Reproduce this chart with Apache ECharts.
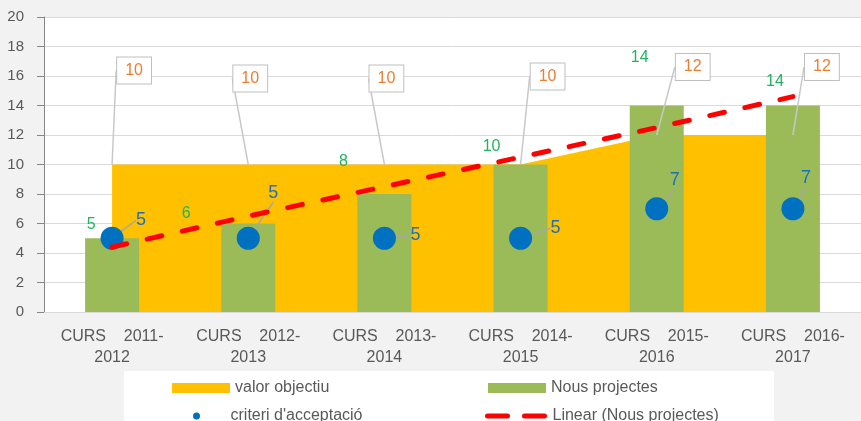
<!DOCTYPE html>
<html>
<head>
<meta charset="utf-8">
<script src="https://cdn.jsdelivr.net/npm/echarts@6/dist/echarts.min.js"></script>
<style>
  html, body { margin: 0; padding: 0; background: #f2f2f2; }
  #main { width: 861px; height: 421px; }
</style>
</head>
<body>
<div id="main"></div>
<script>
// dades del gràfic
var categories = ['CURS    2011-\n2012', 'CURS    2012-\n2013', 'CURS    2013-\n2014',
                  'CURS    2014-\n2015', 'CURS    2015-\n2016', 'CURS    2016-\n2017'];
var valorObjectiu = [10, 10, 10, 10, 12, 12];
var nousProjectes = [5, 6, 8, 10, 14, 14];
var criteriAcceptacio = [5, 5, 5, 5, 7, 7];
var linearNous = [4.4, 6.5, 8.5, 10.5, 12.5, 14.6];
var yTicks = [0, 20, 2]; // min, max, interval

// desplaçament de les etiquetes (px) respecte del punt
var areaLabelShift = [[22, -94], [2, -86], [2, -86], [27, -88], [36, -68], [29, -68]];
var barLabelShift = [[-21, -14], [-62, -10], [-41, -32], [-29, -18], [-17, -48], [-18, -24]];
var dotLabelShift = [[29, -18], [25, -45], [31, -3], [35, -10], [18, -29], [13, -31]];

var font = 'Liberation Sans';
var gris = '#595959';
var myChart = echarts.init(document.getElementById('main'));

function moveLabel(shift, fromTop) {
    return function (p) {
        var r = p.rect;
        var s = shift[p.dataIndex];
        var y = fromTop ? r.y : r.y + r.height / 2;
        return {
            x: r.x + r.width / 2 + s[0],
            y: y + s[1],
            align: 'center',
            verticalAlign: 'middle'
        };
    };
}

var legendText = { color: gris, fontSize: 16, fontFamily: font };

var option = {
    backgroundColor: '#f2f2f2',
    animation: false,
    textStyle: { fontFamily: font },
    grid: {
        left: 44, top: 17, width: 820, height: 295,
        show: true, backgroundColor: '#ffffff', borderWidth: 0
    },
    graphic: [{
        type: 'rect', left: 124, top: 371, z: -1,
        shape: { width: 650, height: 50 },
        style: { fill: '#ffffff' }
    }],
    legend: [
        { data: [{ name: 'valor objectiu', icon: 'rect' }], left: 167, top: 375,
          itemWidth: 58, itemHeight: 10, textStyle: legendText },
        { data: [{ name: 'Nous projectes', icon: 'rect' }], left: 483, top: 375,
          itemWidth: 58, itemHeight: 10, textStyle: legendText },
        { data: [{ name: "criteri d'acceptació", icon: 'circle' }], left: 188, top: 403,
          itemWidth: 58, itemHeight: 7, textStyle: legendText },
        { data: ['Linear (Nous projectes)'], left: 480, top: 403,
          itemWidth: 60, itemHeight: 10,
          lineStyle: { type: [20, 17], width: 5 },
          itemStyle: { opacity: 0 },
          textStyle: legendText }
    ],
    xAxis: {
        type: 'category',
        data: categories,
        axisLine: { lineStyle: { color: '#d9d9d9' } },
        axisTick: { show: false },
        axisLabel: { color: gris, fontSize: 16, lineHeight: 21, margin: 14, interval: 0 }
    },
    yAxis: {
        type: 'value',
        min: yTicks[0], max: yTicks[1], interval: yTicks[2],
        axisLine: { show: true, lineStyle: { color: '#868686' } },
        axisTick: { show: true, length: 7, lineStyle: { color: '#868686' } },
        splitLine: { lineStyle: { color: '#d9d9d9' } },
        axisLabel: { color: gris, fontSize: 15, margin: 20 }
    },
    series: [
        {
            // àrea groga (darrere de tot)
            name: 'valor objectiu',
            type: 'line',
            z: 1,
            data: valorObjectiu,
            color: '#FFC000',
            symbol: 'none',
            lineStyle: { width: 0 },
            areaStyle: { color: '#FFC000', opacity: 1 }
        },
        {
            name: 'Nous projectes',
            type: 'bar',
            z: 2,
            data: nousProjectes,
            color: '#9BBB59',
            barWidth: 54,
            label: { show: true, position: 'top', color: '#22B35E', fontSize: 16, textBorderWidth: 0 },
            labelLayout: moveLabel(barLabelShift, true)
        },
        {
            name: "criteri d'acceptació",
            type: 'scatter',
            z: 3,
            data: criteriAcceptacio,
            color: '#0070C0',
            symbolSize: 23,
            itemStyle: { opacity: 1 },
            label: { show: true, position: 'right', color: '#1F6FB8', fontSize: 18, textBorderWidth: 0 },
            labelLine: { show: true, lineStyle: { color: '#a6a6a6', width: 1.5 } },
            labelLayout: moveLabel(dotLabelShift, false)
        },
        {
            name: 'Linear (Nous projectes)',
            type: 'line',
            z: 4,
            data: linearNous,
            color: '#FF0000',
            symbol: 'none',
            lineStyle: { color: '#FF0000', width: 5, type: [15, 21], cap: 'round' }
        },
        {
            // etiquetes de valor objectiu (per sobre de tot)
            name: 'valor objectiu etiquetes',
            type: 'line',
            z: 5,
            data: valorObjectiu,
            symbol: 'circle',
            symbolSize: 0,
            itemStyle: { color: 'rgba(0,0,0,0)' },
            lineStyle: { width: 0, color: 'rgba(0,0,0,0)' },
            label: {
                show: true,
                color: '#ED7D31',
                fontSize: 16,
                backgroundColor: '#ffffff',
                borderColor: '#bfbfbf',
                borderWidth: 1,
                padding: [5, 8]
            },
            labelLine: { show: true, lineStyle: { color: '#c8c8c8', width: 1.5 } },
            labelLayout: moveLabel(areaLabelShift, false)
        }
    ]
};

myChart.setOption(option);
</script>
</body>
</html>
